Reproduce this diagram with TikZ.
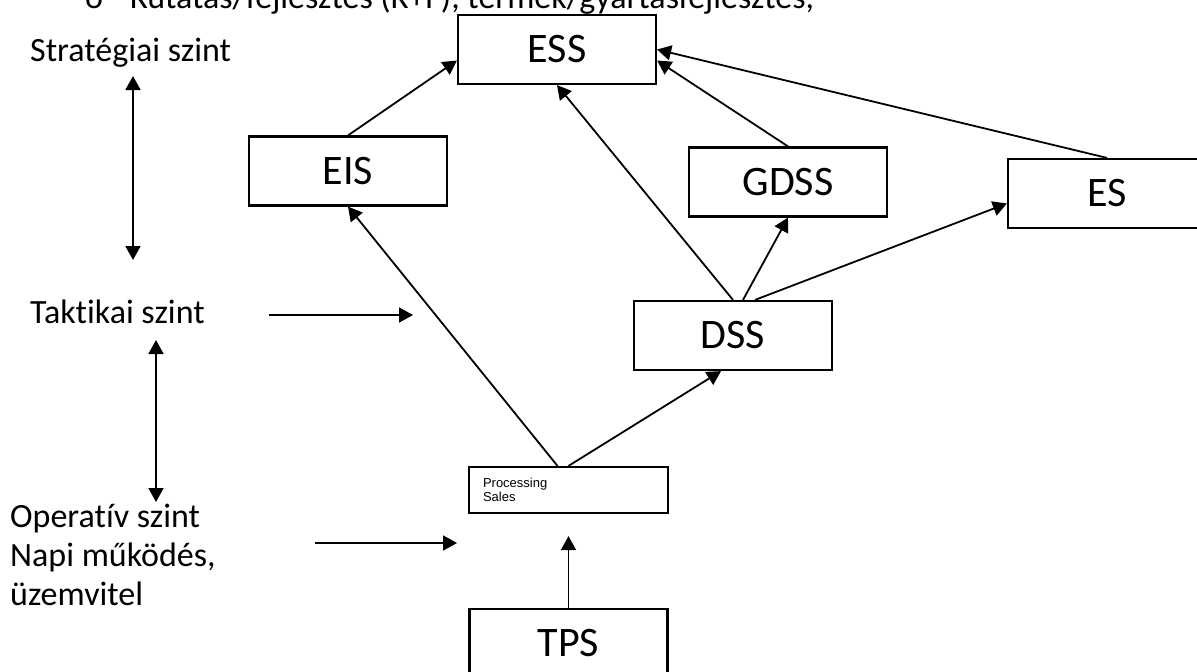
\documentclass[tikz,border=0pt]{standalone}
\usepackage{fontspec}
\setmainfont{Carlito}[Ligatures=NoCommon]
\newfontfamily\arialfont{Liberation Sans}
\usetikzlibrary{arrows.meta}
\tikzset{
    box/.style={draw, line width=2.2pt, minimum width=198pt, minimum height=69pt, inner sep=0pt, font=\fontsize{42}{50}\selectfont},
    level/.style={inner sep=0pt, font=\fontsize{34}{39}\selectfont},
    arr/.style={line width=1.8pt, -{Triangle[length=14pt,width=15pt]}},
    dblarr/.style={line width=1.8pt, {Triangle[length=14pt,width=15pt]}-{Triangle[length=14pt,width=15pt]}}
}
\begin{document}
\begin{tikzpicture}[x=1pt,y=-1pt]
    \useasboundingbox (0,0) rectangle (1197,672);
    \clip (0,0) rectangle (1197,672);
        \node[level, anchor=base west] (top) at (85,8){\makebox[45pt][l]{o}Kutatás/fejlesztés (K+F), termék/gyártásfejlesztés,};
        \node[level, anchor=base west] (strat) at (30,61){Stratégiai szint};
        \node[level, anchor=base west] (takt) at (30,323){Taktikai szint};
        \node[level, anchor=base west, align=left] (oper) at (10,605){Operatív szint\\Napi működés,\\üzemvitel};
    \node[box] (ess) at (557,49.5){ESS};
    \node[box] (eis) at (348,171){EIS};
    \node[box] (gdss) at (788,182){GDSS};
    \node[box] (es) at (1107,193.5){ES};
    \node[box] (dss) at (733,335.5){DSS};
    \node[box] (tps) at (568.5,643.5){TPS};
    \node[draw, line width=2.2pt, minimum width=199pt, minimum height=46pt, inner xsep=14pt, text width=171pt, align=left, font=\arialfont\fontsize{13}{14.5}\selectfont] (proc) at (568.5,490){Processing\\Sales};
        \coordinate (s1) at (133,76);
        \coordinate (s2) at (133,260);
        \coordinate (t1) at (269,315);
        \coordinate (t2) at (413,315);
        \coordinate (o1) at (156,340);
        \coordinate (o2) at (156,502);
        \coordinate (p1) at (315,543);
        \coordinate (p2) at (457,543);
    \draw[dblarr] (s1) -- (s2);
    \draw[arr] (t1) -- (t2);
    \draw[dblarr] (o1) -- (o2);
    \draw[arr] (p1) -- (p2);
    \draw[arr] (eis.north) -- ([yshift=-11pt]ess.west);
    \draw[arr] (dss.north) -- (ess.south);
    \draw[arr] (gdss.north) -- ([yshift=-11pt]ess.east);
    \draw[arr] (es.north) -- (ess.east);
    \draw[arr] ([xshift=10pt]dss.north) -- (gdss.south);
    \draw[arr] ([xshift=22pt]dss.north) -- ([yshift=-10pt]es.west);
    \draw[arr] ([xshift=-11pt]proc.north) -- (eis.south);
    \draw[arr] (proc.north) -- ([xshift=-12pt]dss.south);
    \draw[arr, shorten >=22pt] (tps.north) -- (proc.south);
\end{tikzpicture}
\end{document}
